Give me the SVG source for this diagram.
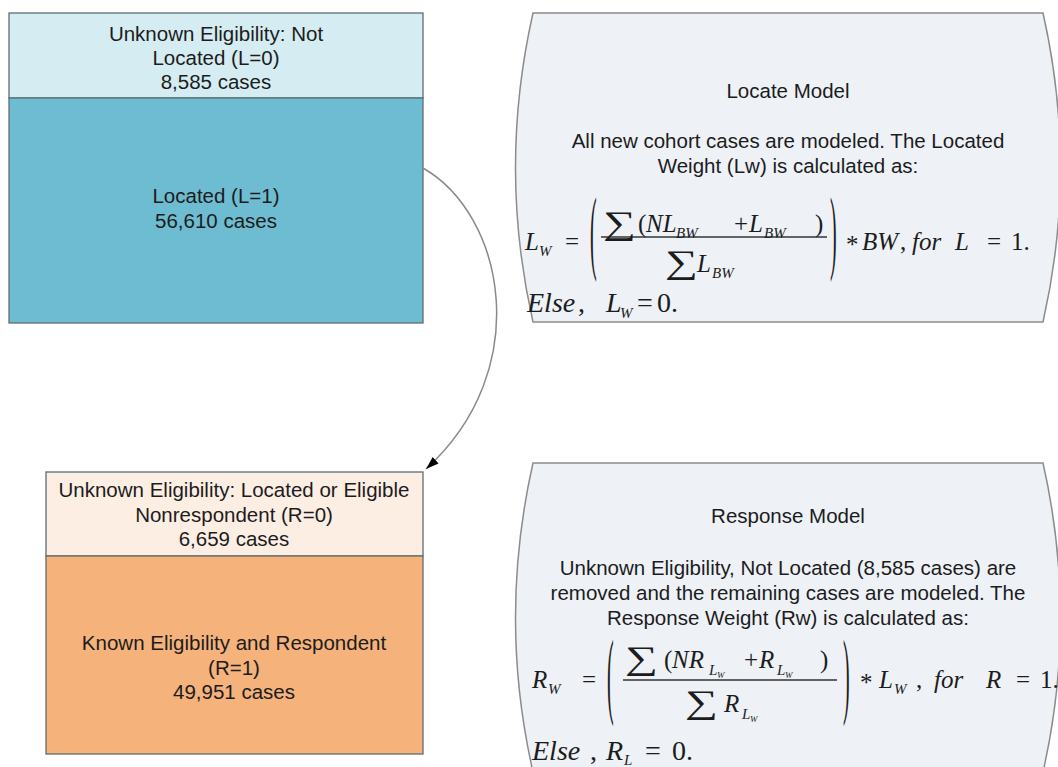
<svg xmlns="http://www.w3.org/2000/svg" width="1058" height="767" viewBox="0 0 1058 767">
<style>
.lbl{font-family:"Liberation Sans",Arial,sans-serif;font-size:20.5px;fill:#1c1c1c;text-anchor:middle}
.m{font-family:"Liberation Serif","Times New Roman",serif;font-size:25px;fill:#1c1c1c}
.i{font-style:italic}
.s{font-size:15px}
.ss{font-size:9px}
.sg{font-size:33px}
.p{font-size:20px}
.e{font-size:28px}
.box{stroke:#5f6d70;stroke-width:1.3}
.panel{fill:#eef1f6;stroke:#8c8c8c;stroke-width:1.5}
.conn{fill:none;stroke:#8a8a8a;stroke-width:1.5}
.bar{stroke:#333;stroke-width:1.4}
</style>
<defs>
<marker id="ah" viewBox="0 0 12 8" refX="12" refY="4" markerWidth="13" markerHeight="9" markerUnits="userSpaceOnUse" orient="auto">
<path d="M0,0 L12,4 L0,8 z" fill="#000"/>
</marker>
</defs>

<g id="not-located">
<rect class="box" x="9" y="13" width="414" height="85" fill="#d5ecf2"/>
<text class="lbl" x="216" y="41">Unknown Eligibility: Not</text>
<text class="lbl" x="216" y="65">Located (L=0)</text>
<text class="lbl" x="216" y="89">8,585 cases</text>
</g>

<g id="located">
<rect class="box" x="9" y="98" width="414" height="225" fill="#6dbcd1"/>
<text class="lbl" x="216" y="203">Located (L=1)</text>
<text class="lbl" x="216" y="228">56,610 cases</text>
</g>

<g id="nonrespondent">
<rect class="box" x="46" y="472" width="377" height="84" fill="#fdeee4" stroke="#7a7a7a"/>
<text class="lbl" x="234" y="497">Unknown Eligibility: Located or  Eligible</text>
<text class="lbl" x="234" y="522">Nonrespondent (R=0)</text>
<text class="lbl" x="234" y="546">6,659 cases</text>
</g>

<g id="respondent">
<rect class="box" x="46" y="556" width="377" height="198" fill="#f5b27b" stroke="#7a7a7a"/>
<text class="lbl" x="234" y="650">Known Eligibility and Respondent</text>
<text class="lbl" x="234" y="675">(R=1)</text>
<text class="lbl" x="234" y="699">49,951 cases</text>
</g>

<g id="locate-model">
<path class="panel" d="M533,13 L1043,13 Q1078,168 1043,322 L533,322 Q498,168 533,13 Z"/>
<text class="lbl" x="788" y="98">Locate Model</text>
<text class="lbl" x="788" y="148">All new cohort cases are modeled. The Located</text>
<text class="lbl" x="788" y="173">Weight (Lw) is calculated as:</text>
<text class="m i" x="525" y="250">L</text>
<text class="m i s" x="539" y="256">W</text>
<text class="m" x="565" y="250">=</text>
<text class="m p" transform="translate(590,261.5) scale(1,4.7)">(</text>
<line class="bar" x1="601" y1="237" x2="827" y2="237"/>
<text class="m sg" transform="translate(603,234) scale(1.4,1)">∑</text>
<text class="m" x="638" y="232">(</text>
<text class="m i" x="646" y="232">NL</text>
<text class="m i s" x="676" y="238">BW</text>
<text class="m" x="734" y="232">+</text>
<text class="m i" x="749" y="232">L</text>
<text class="m i s" x="764" y="238">BW</text>
<text class="m" x="815" y="232">)</text>
<text class="m sg" transform="translate(665,273) scale(1.4,1)">∑</text>
<text class="m i" x="697" y="272">L</text>
<text class="m i s" x="712" y="278">BW</text>
<text class="m p" transform="translate(830,261.5) scale(1,4.7)">)</text>
<text class="m" x="846" y="253">*</text>
<text class="m i" x="862" y="250">BW</text>
<text class="m" x="900" y="250">,</text>
<text class="m i" x="912" y="250">for</text>
<text class="m i" x="955" y="250">L</text>
<text class="m" x="987" y="250">=</text>
<text class="m" x="1011" y="250">1.</text>
<text class="m i e" x="527" y="312">Else</text>
<text class="m e" x="578" y="312">,</text>
<text class="m i e" x="606" y="312">L</text>
<text class="m i s" x="620" y="318">W</text>
<text class="m e" x="637" y="312">=</text>
<text class="m e" x="657" y="312">0.</text>
</g>

<g id="response-model">
<path class="panel" d="M533,463 L1043,463 Q1078,618 1043,772 L533,772 Q498,618 533,463 Z"/>
<text class="lbl" x="788" y="523">Response Model</text>
<text class="lbl" x="788" y="575">Unknown Eligibility, Not Located (8,585 cases) are</text>
<text class="lbl" x="788" y="600">removed and the remaining cases are modeled. The</text>
<text class="lbl" x="788" y="625">Response Weight (Rw) is calculated as:</text>
<text class="m i" x="532" y="688">R</text>
<text class="m i s" x="548" y="694">W</text>
<text class="m" x="582" y="688">=</text>
<text class="m p" transform="translate(607,706) scale(1,4.8)">(</text>
<line class="bar" x1="623" y1="680" x2="837" y2="680"/>
<text class="m sg" transform="translate(625,669) scale(1.4,1)">∑</text>
<text class="m" x="664" y="668">(</text>
<text class="m i" x="672" y="668">NR</text>
<text class="m i s" x="709" y="675">L</text>
<text class="m i ss" x="717" y="678">W</text>
<text class="m" x="744" y="668">+</text>
<text class="m i" x="759" y="668">R</text>
<text class="m i s" x="777" y="675">L</text>
<text class="m i ss" x="785" y="678">W</text>
<text class="m" x="820" y="668">)</text>
<text class="m sg" transform="translate(685,713) scale(1.4,1)">∑</text>
<text class="m i" x="724" y="712">R</text>
<text class="m i s" x="742" y="719">L</text>
<text class="m i ss" x="750" y="722">W</text>
<text class="m p" transform="translate(843,706) scale(1,4.8)">)</text>
<text class="m" x="860" y="691">*</text>
<text class="m i" x="879" y="688">L</text>
<text class="m i s" x="894" y="694">W</text>
<text class="m" x="916" y="688">,</text>
<text class="m i" x="934" y="688">for</text>
<text class="m i" x="986" y="688">R</text>
<text class="m" x="1016" y="688">=</text>
<text class="m" x="1040" y="688">1.</text>
<text class="m i e" x="532" y="760">Else</text>
<text class="m e" x="590" y="760">,</text>
<text class="m i e" x="606" y="760">R</text>
<text class="m i s" x="624" y="765">L</text>
<text class="m e" x="645" y="760">=</text>
<text class="m e" x="672" y="760">0.</text>
</g>

<g id="connectors">
<path class="conn" d="M423,168 C505,215 535,370 426,469" marker-end="url(#ah)"/>
</g>
</svg>
